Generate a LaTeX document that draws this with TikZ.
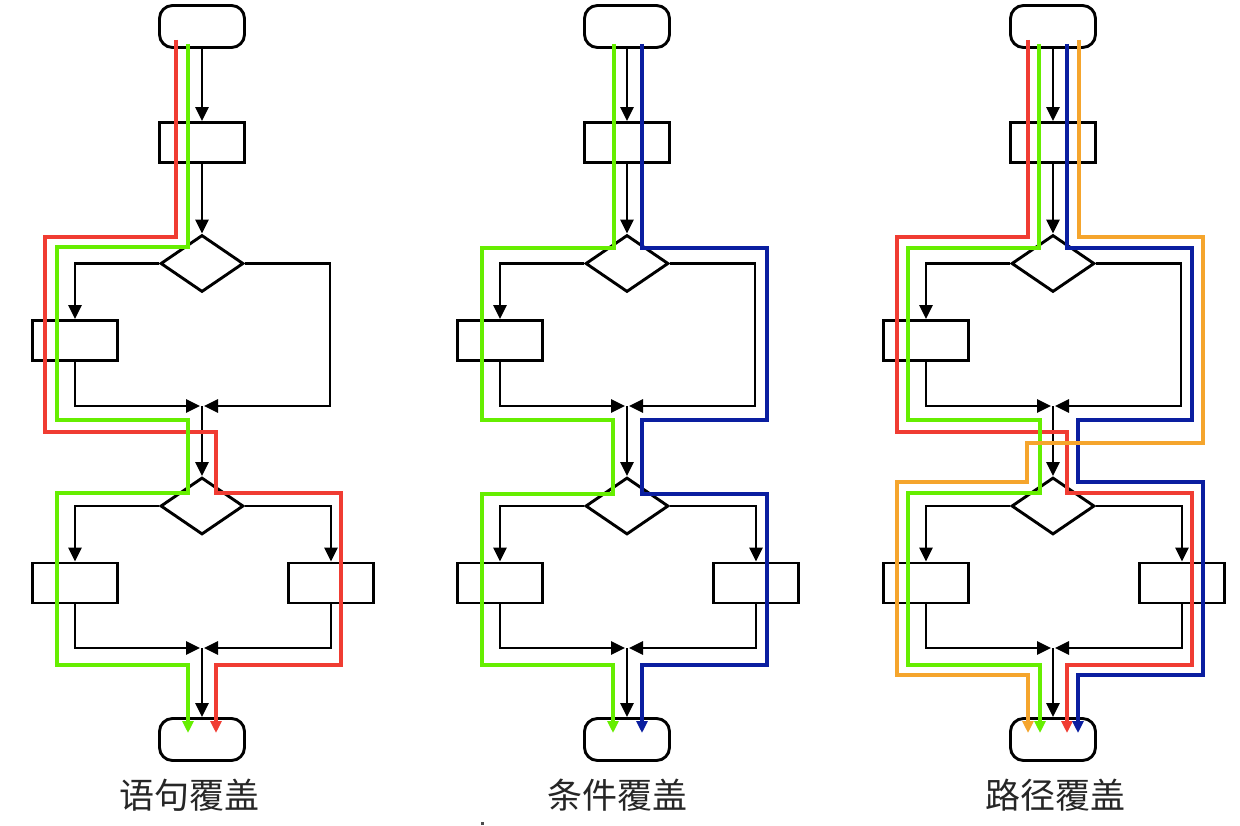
\documentclass[tikz,border=0pt]{standalone}
\usepackage{fontspec}
\newfontfamily\cjk{Noto Sans CJK SC}
\usetikzlibrary{shapes.geometric,arrows.meta}
\definecolor{pred}{RGB}{240,60,50}
\definecolor{pgreen}{RGB}{102,238,0}
\definecolor{pblue}{RGB}{10,30,160}
\definecolor{porange}{RGB}{245,165,45}
\tikzset{
  term/.style={draw, line width=2.9pt, rounded corners=13pt, minimum width=85pt, minimum height=42pt, inner sep=0pt},
  box/.style={draw, line width=2.9pt, minimum width=85pt, minimum height=40pt, inner sep=0pt},
  dia/.style={draw, line width=2.9pt, diamond, aspect=1.45, minimum width=83pt, minimum height=57pt, inner sep=0pt},
  arr/.style={draw, line width=2.9pt, -{Triangle[length=14pt,width=13pt]}},
  cpath/.style={line width=4.3pt, line join=miter, -{Triangle[length=12pt,width=11pt]}},
  lbl/.style={font=\cjk\fontsize{35}{40}\selectfont, text=black!85, inner sep=0pt}
}
\newcommand\fcdraw[2]{%
  \begin{scope}[xshift=#2pt]
    \node[term] (#1s) at (0,26.5) {};
    \node[box] (#1r1) at (0,142.5) {};
    \node[dia] (#1d1) at (0,263.5) {};
    \node[box] (#1l1) at (-127,340.5) {};
    \coordinate (#1m1) at (0,406);
    \coordinate (#1c1) at (128,406);
    \node[dia] (#1d2) at (0,506) {};
    \node[box] (#1l2) at (-127,583) {};
    \node[box] (#1r2) at (129,583) {};
    \coordinate (#1m2) at (0,648);
    \node[term] (#1e) at (0,739.5) {};
    \draw[arr] (#1s) -- (#1r1);
    \draw[arr] (#1r1) -- (#1d1);
    \draw[arr] (#1d1.west) -| (#1l1.north);
    \draw[arr] (#1d1.east) -| (#1c1) -- ([xshift=2pt]#1m1);
    \draw[arr] (#1l1.south) |- ([xshift=-2pt]#1m1);
    \draw[arr] (#1m1) -- (#1d2.north);
    \draw[arr] (#1d2.west) -| (#1l2.north);
    \draw[arr] (#1d2.east) -| (#1r2.north);
    \draw[arr] (#1l2.south) |- ([xshift=-2pt]#1m2);
    \draw[arr] (#1r2.south) |- ([xshift=2pt]#1m2);
    \draw[arr] (#1m2) -- (#1e.north);
  \end{scope}}
\begin{document}
\begin{tikzpicture}[x=1pt,y=-1pt]
  \useasboundingbox[fill=white] (0,0) rectangle (1240,826);
  % diagram 1: statement coverage
  \fcdraw{a}{202}
  \begin{scope}[xshift=202pt]
    \draw[cpath, pred] (-26,40) -- (-26,237) -- (-157,237) -- (-157,432) -- (14,432) -- (14,493) -- (139,493) -- (139,665) -- (14,665) -- (14,733);
    \draw[cpath, pgreen] (-14,44) -- (-14,247) -- (-145,247) -- (-145,420) -- (-14,420) -- (-14,493) -- (-145,493) -- (-145,665) -- (-14,665) -- (-14,733);
  \end{scope}
  \node[lbl] (la) at (189,795) {语句覆盖};
  % diagram 2: condition coverage
  \fcdraw{b}{627}
  \begin{scope}[xshift=627pt]
    \draw[cpath, pgreen] (-13,44) -- (-13,248) -- (-145,248) -- (-145,420) -- (-14,420) -- (-14,494) -- (-145,494) -- (-145,665) -- (-14,665) -- (-14,733);
    \draw[cpath, pblue] (15,44) -- (15,248) -- (140,248) -- (140,420) -- (15,420) -- (15,494) -- (140,494) -- (140,665) -- (15,665) -- (15,733);
  \end{scope}
  \node[lbl] (lb) at (617,795) {条件覆盖};
  % diagram 3: path coverage
  \fcdraw{c}{1053}
  \begin{scope}[xshift=1053pt]
    \draw[cpath, pred] (-25,40) -- (-25,237) -- (-156,237) -- (-156,432) -- (14,432) -- (14,493) -- (139,493) -- (139,665) -- (14,665) -- (14,733);
    \draw[cpath, pgreen] (-14,44) -- (-14,248) -- (-145,248) -- (-145,420) -- (-13,420) -- (-13,493) -- (-145,493) -- (-145,665) -- (-13,665) -- (-13,733);
    \draw[cpath, pblue] (14,44) -- (14,248) -- (139,248) -- (139,420) -- (25,420) -- (25,482) -- (150,482) -- (150,675) -- (25,675) -- (25,733);
    \draw[cpath, porange] (26,40) -- (26,237) -- (150,237) -- (150,443) -- (-26,443) -- (-26,482) -- (-156,482) -- (-156,675) -- (-25,675) -- (-25,733);
  \end{scope}
  \node[lbl] (lc) at (1055,795) {路径覆盖};
  \fill[black!70] (480.5,821.5) rectangle (483.5,824.5);
\end{tikzpicture}
\end{document}
